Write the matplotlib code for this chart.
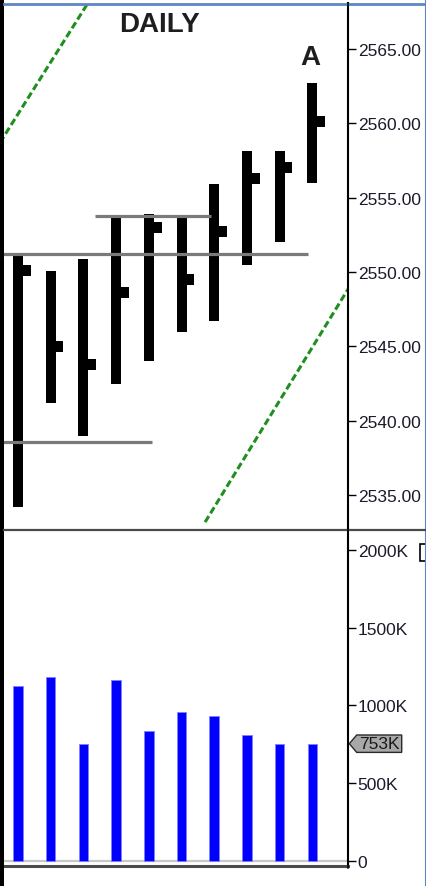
import numpy as np
import matplotlib
matplotlib.use("Agg")
import matplotlib.pyplot as plt
from matplotlib.patches import Polygon, Rectangle
from matplotlib.lines import Line2D
import matplotlib.transforms as mtransforms

plt.rcParams['font.family'] = ['Liberation Sans', 'DejaVu Sans']

# ---------------- data ----------------
bar_idx = np.arange(10)
highs  = [2551.1, 2550.1, 2550.9, 2553.7, 2553.9, 2553.7, 2555.9, 2558.1, 2558.1, 2562.7]
lows   = [2534.2, 2541.2, 2539.0, 2542.45, 2544.0, 2546.0, 2546.7, 2550.5, 2552.05, 2556.0]
closes = [2550.1, 2545.0, 2543.8, 2548.6, 2553.0, 2549.5, 2552.7, 2556.3, 2557.0, 2560.1]
volumes_k = [1122, 1184, 751, 1163, 833, 955, 933, 811, 751, 753]

price_ticks = [2535, 2540, 2545, 2550, 2555, 2560, 2565]
vol_ticks = [0, 500, 1000, 1500, 2000]
vol_tick_labels = ["0", "500K", "1000K", "1500K", "2000K"]

# horizontal support/resistance levels: (level, x_start, x_end)
levels = [2551.2, 2553.77, 2538.6]
level_x0 = [-0.46, 2.35, -0.46]
level_x1 = [8.87, 5.9, 4.1]

# channel trend lines
trend_upper_x = [-0.55, 2.11]
trend_upper_y = [2558.7, 2567.97]
trend_lower_x = [5.72, 10.09]
trend_lower_y = [2533.2, 2548.85]

last_volume_label = "753K"

# ---------------- figure ----------------
W, H = 427, 887
fig = plt.figure(figsize=(W / 100, H / 100), dpi=100)
fig.patch.set_facecolor('white')

def fx(px):
    return px / W

def fy(py):
    return 1 - py / H

ax_left, ax_right = 3.5, 348
ax_p = fig.add_axes([fx(ax_left), fy(530), fx(ax_right) - fx(ax_left), fy(4.5) - fy(530)])
ax_v = fig.add_axes([fx(ax_left), fy(867), fx(ax_right) - fx(ax_left), fy(530) - fy(867)])

LABEL_SIZE = 12.5
xlim = (-0.443, 10.09)
for ax in (ax_p, ax_v):
    ax.set_xlim(*xlim)
    ax.set_facecolor('white')
    ax.yaxis.tick_right()
    ax.set_xticks([])
    for s in ('left', 'top', 'bottom'):
        ax.spines[s].set_visible(False)
    ax.spines['right'].set_color('black')
    ax.spines['right'].set_linewidth(1.5)
    ax.tick_params(axis='y', which='both', length=6, width=1, color='black',
                   pad=1, labelsize=LABEL_SIZE, labelcolor='#1a1a2a', left=False, right=True)

# ---- price panel ----
ax_p.set_ylim(2532.74, 2568.04)
bw = 0.306
ax_p.bar(bar_idx, np.array(highs) - np.array(lows), bottom=lows, width=bw,
         color='black', linewidth=0, zorder=3)
tick_w = 0.235
tick_h = 0.74
ax_p.bar(bar_idx + bw / 2 + tick_w / 2, tick_h, bottom=np.array(closes) - tick_h / 2,
         width=tick_w, color='black', linewidth=0, zorder=3)

for lv, x0, x1 in zip(levels, level_x0, level_x1):
    ax_p.plot([x0, x1], [lv, lv], color='#7a7a7a', lw=2.3, zorder=4, solid_capstyle='butt')

for xs, ys in ((trend_upper_x, trend_upper_y), (trend_lower_x, trend_lower_y)):
    ax_p.plot(xs, ys, color='#1f8f1f', lw=2.2, linestyle=(0, (2.3, 1.1)), zorder=2)

ax_p.set_yticks(price_ticks)
ax_p.set_yticklabels([f"{v:.2f}" for v in price_ticks])

ax_p.text((160 - ax_left) / (ax_right - ax_left), 1 - (25 - 4.5) / (530 - 4.5),
          "DAILY", transform=ax_p.transAxes, ha='center', va='center',
          fontsize=20, fontweight='bold', color='#1e1e1e')
ax_p.text((310 - ax_left) / (ax_right - ax_left), 1 - (58 - 4.5) / (530 - 4.5),
          "A", transform=ax_p.transAxes, ha='center', va='center',
          fontsize=20, fontweight='bold', color='#1e1e1e')

# ---- volume panel ----
ax_v.set_ylim(-34, 2134.5)
ax_v.bar(bar_idx, volumes_k, width=0.29, color='#0000ff', edgecolor='#8080ff',
         linewidth=0.6, zorder=3)
ax_v.axhline(0, color='#c8c8c8', lw=1.6, zorder=2)
ax_v.spines['bottom'].set_visible(True)
ax_v.spines['bottom'].set_color('#4a4a4a')
ax_v.spines['bottom'].set_linewidth(2.2)
ax_v.set_yticks(vol_ticks)
ax_v.set_yticklabels(vol_tick_labels)

# last-volume marker tag
trans = mtransforms.blended_transform_factory(fig.transFigure, ax_v.transData)
vlast = volumes_k[-1]
half = 8.7 / ((fy(530) - fy(867)) * H) * (2134.5 + 34)
tag = Polygon([[fx(349.3), vlast], [fx(356.7), vlast + half], [fx(401.7), vlast + half],
               [fx(401.7), vlast - half], [fx(356.7), vlast - half]],
              closed=True, transform=trans, facecolor='#a8a8a8', edgecolor='#2a2a2a',
              lw=1.0, clip_on=False, zorder=5)
fig.add_artist(tag)
fig.text(fx(379.5), vlast, last_volume_label, transform=trans, ha='center', va='center',
         fontsize=LABEL_SIZE, color='#1a1a1a', zorder=6)

# ---------------- frame decorations ----------------
fig.add_artist(Rectangle((0, 0), fx(3.8), 1, transform=fig.transFigure,
                         facecolor='black', edgecolor='none', zorder=10))
fig.add_artist(Line2D([fx(3.8), 1], [fy(5), fy(5)], transform=fig.transFigure,
                      color='#5b86c4', lw=2.0, zorder=10))
fig.add_artist(Line2D([fx(426), fx(426)], [0, 1], transform=fig.transFigure,
                      color='#5b86c4', lw=1.5, zorder=10))
fig.add_artist(Line2D([fx(3.8), 1], [fy(530.5), fy(530.5)], transform=fig.transFigure,
                      color='#4a4a4a', lw=1.6, zorder=10))
fig.add_artist(Line2D([fx(348), fx(348)], [fy(869), fy(4)], transform=fig.transFigure,
                      color='black', lw=1.1, zorder=10))
fig.add_artist(Rectangle((fx(420.5), fy(562)), fx(10), fy(545) - fy(562),
                         transform=fig.transFigure, facecolor='white',
                         edgecolor='black', lw=1.2, zorder=9))

fig.savefig("out.png", dpi=100, facecolor=fig.get_facecolor())
